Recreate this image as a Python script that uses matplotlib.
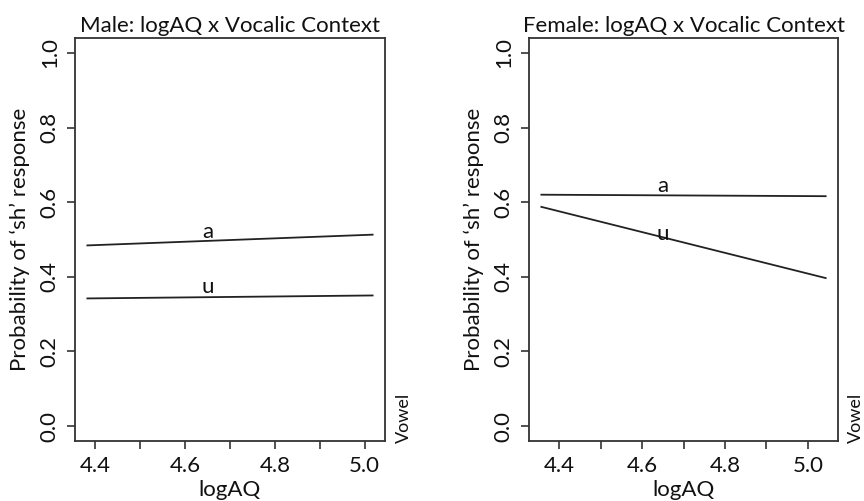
import numpy as np
import matplotlib.pyplot as plt

plt.rcParams["font.family"] = ["Lato", "DejaVu Sans"]

# data
male_x = [4.38, 5.02]
male_a = [0.484, 0.513]
male_u = [0.342, 0.350]

female_x = [4.355, 5.045]
female_a = [0.620, 0.616]
female_u = [0.588, 0.396]

label_pos = {
    "Male": {"a": (4.65, 0.521), "u": (4.65, 0.372)},
    "Female": {"a": (4.65, 0.642), "u": (4.65, 0.516)},
}

x_ticks = [4.4, 4.5, 4.6, 4.7, 4.8, 4.9, 5.0]
x_labels = ["4.4", "", "4.6", "", "4.8", "", "5.0"]
y_ticks = [0.0, 0.2, 0.4, 0.6, 0.8, 1.0]

LINE = "#222222"
AXC = "#333333"
TXT = "#111111"
FS = 16

fig = plt.figure(figsize=(8.64, 5.01), dpi=100)
ax_m = fig.add_axes([0.0868, 0.1198, 0.3588, 0.8044])
ax_f = fig.add_axes([0.6123, 0.1198, 0.3576, 0.8044])

panels = [
    (ax_m, "Male", male_x, male_a, male_u, 0.4675),
    (ax_f, "Female", female_x, female_a, female_u, 0.9905),
]

for ax, sex, x, a, u, vowel_x in panels:
    ax.plot(x, a, color=LINE, lw=1.3, solid_capstyle="butt")
    ax.plot(x, u, color=LINE, lw=1.3, solid_capstyle="butt")
    for lab, (tx, ty) in label_pos[sex].items():
        ax.text(tx, ty, lab, fontsize=FS, ha="center", va="center", color=TXT)

    ax.margins(x=0.04)
    ax.set_ylim(-0.04, 1.04)
    ax.set_xticks(x_ticks)
    ax.set_xticklabels(x_labels)
    ax.set_yticks(y_ticks)
    ax.set_yticklabels([f"{v:.1f}" for v in y_ticks], rotation=90, va="center")
    ax.tick_params(direction="out", length=6, width=1.2, color=AXC,
                   labelsize=FS, labelcolor=TXT, pad=5)
    for s in ax.spines.values():
        s.set_color(AXC)
        s.set_linewidth(1.3)

    ax.set_title(f"{sex}: logAQ x Vocalic Context", fontsize=FS, pad=4,
                 color=TXT)
    ax.set_xlabel("logAQ", fontsize=FS, labelpad=3, color=TXT)
    ax.set_ylabel("Probability of \u2018sh\u2019 response", fontsize=FS,
                  labelpad=7, color=TXT)

    fig.text(vowel_x, 0.165, "Vowel", rotation=90, fontsize=13,
             ha="center", va="center", color=TXT)

fig.savefig("out.png", dpi=100)
